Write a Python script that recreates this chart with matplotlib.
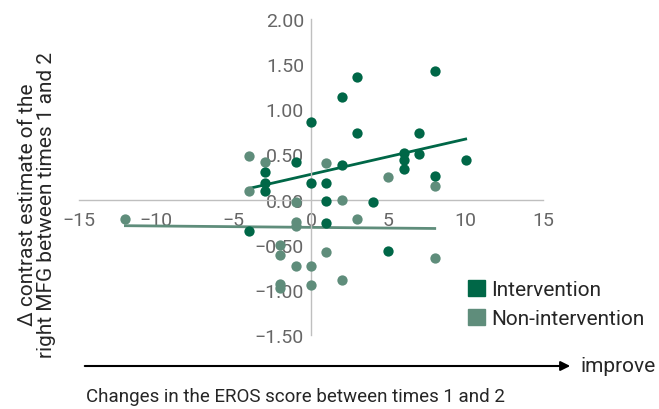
import matplotlib.pyplot as plt
import numpy as np
from matplotlib.patches import FancyArrowPatch, Patch

plt.rcParams["font.family"] = ["Roboto", "DejaVu Sans"]

DARK = "#006747"
LIGHT = "#5f8d7b"

# change in EROS score (x) vs change in contrast estimate (y)
int_x = [0, 3, 2, 3, -1, -3, -3, -3, 0, 1, 2, 1, 4, 8, 7, 6, 6, 7, 10, 6, 8, -4, 1, 5]
int_y = [0.86, 1.36, 1.14, 0.74, 0.42, 0.31, 0.18, 0.10, 0.18, 0.18, 0.38, -0.02,
         -0.03, 1.42, 0.74, 0.52, 0.44, 0.51, 0.44, 0.34, 0.26, -0.35, -0.26, -0.57]

non_x = [-12, -4, -3, -4, 1, 2, -1, 5, 8, -1, -1, 3, -2, -2, 1, -1, 0, 2, -2, -2, 0, 8]
non_y = [-0.21, 0.48, 0.42, 0.10, 0.40, 0.00, -0.03, 0.25, 0.155, -0.25, -0.29, -0.22,
         -0.50, -0.61, -0.58, -0.74, -0.74, -0.89, -0.93, -0.98, -0.95, -0.65]

x_ticks = [-15, -10, -5, 0, 5, 10, 15]
y_ticks = [-1.5, -1.0, -0.5, 0.0, 0.5, 1.0, 1.5, 2.0]


def trend(ax, xs, ys, color):
    xs = np.array(xs, dtype=float)
    ys = np.array(ys, dtype=float)
    k, b = np.polyfit(xs, ys, 1)
    xx = np.array([xs.min(), xs.max()])
    ax.plot(xx, k * xx + b, color=color, lw=2, zorder=2)


fig = plt.figure(figsize=(6.59, 4.10), dpi=100)
ax = fig.add_axes([79 / 659, 74 / 410, 464 / 659, 316 / 410])

ax.scatter(non_x, non_y, s=55, color=LIGHT, linewidths=0, zorder=3)
ax.scatter(int_x, int_y, s=55, color=DARK, linewidths=0, zorder=4)
trend(ax, int_x, int_y, DARK)
trend(ax, non_x, non_y, LIGHT)

ax.set_xlim(-15, 15)
ax.set_ylim(-1.5, 2.0)
ax.set_xticks(x_ticks)
ax.set_yticks(y_ticks)
ax.set_xticklabels([f"{v}".replace("-", "\u2212") for v in x_ticks])
ax.set_yticklabels([f"{v:.2f}".replace("-", "\u2212") for v in y_ticks])

for side in ["top", "right"]:
    ax.spines[side].set_visible(False)
ax.spines["left"].set_position(("data", 0))
ax.spines["bottom"].set_position(("data", 0))
for side in ["left", "bottom"]:
    ax.spines[side].set_color("#bfbfbf")
    ax.spines[side].set_linewidth(1)
ax.tick_params(length=0, labelsize=14, labelcolor="#666666")
ax.tick_params(axis="x", pad=8)
ax.tick_params(axis="y", pad=5)

handles = [Patch(color=DARK, label="Intervention"),
           Patch(color=LIGHT, label="Non-intervention")]
fig.legend(handles=handles, loc="center left", bbox_to_anchor=(468 / 659, 1 - 305 / 410),
           frameon=False, fontsize=15, handlelength=0.8, handleheight=0.8,
           handletextpad=0.3, labelspacing=0.45, borderaxespad=0, borderpad=0,
           labelcolor="#262626")

fig.text(37 / 659, 1 - 205 / 410, "\u0394 contrast estimate of the\nright MFG between times 1 and 2",
         rotation=90, ha="center", va="center", fontsize=15, color="#262626",
         linespacing=1.05)

fig.patches.append(FancyArrowPatch(
    (82 / 659, 1 - 367 / 410), (573 / 659, 1 - 367 / 410), transform=fig.transFigure,
    arrowstyle="-|>", mutation_scale=14, lw=1.5, color="black"))
fig.text(581 / 659, 1 - 367 / 410, "improve", ha="left", va="center", fontsize=15,
         color="#262626")
fig.text(295 / 659, 1 - 397 / 410, "Changes in the EROS score between times 1 and 2",
         ha="center", va="center", fontsize=13.5, color="#262626")

fig.savefig("out.png", dpi=100)
